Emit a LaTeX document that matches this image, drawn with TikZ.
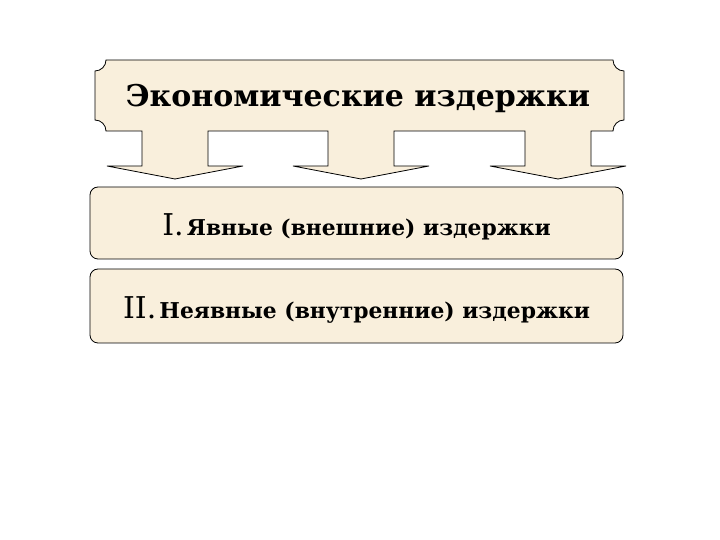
\documentclass[tikz,border=0pt]{standalone}
\usepackage{fontspec}
\setmainfont{DejaVu Serif}
\definecolor{parch}{RGB}{249,239,220}
\tikzset{
panel/.style={
	  draw, fill=parch, rounded corners=8pt,
	    minimum width=533pt},
heading/.style={font=\fontsize{30}{32}\selectfont\bfseries}
}
\newcommand{\numfont}{\fontsize{30}{32}\selectfont}
\newcommand{\bodyfont}{\fontsize{21.8}{24}\selectfont\bfseries}

\begin{document}
\begin{tikzpicture}[x=1pt, y=1pt, line width=0.8pt]
	\useasboundingbox (0,0) rectangle (720,540);
	% banner with the three arrows
	\draw[fill=parch] (95,469) arc[start angle=-90, end angle=0, radius=11]
	-- (613,480) arc[start angle=180, end angle=270, radius=11]
	-- (624,420) arc[start angle=90, end angle=180, radius=11]
	\foreach \c in {558,361,175} {
		-- (\c+33,409) -- (\c+33,374) -- (\c+68,374) -- (\c,361)
		-- (\c-68,374) -- (\c-33,374) -- (\c-33,409)}
	-- (106,409) arc[start angle=0, end angle=90, radius=11] -- cycle;
	\node[heading] (title) at (358,442) {Экономические издержки};
	\node[panel, minimum height=72pt] (explicit) at (356.5,317) {};
	\node[panel, minimum height=74pt] (implicit) at (356.5,234) {};
	\node[yshift=-4pt] (explicitT) at (explicit) {{\numfont I.} \bodyfont Явные (внешние) издержки};
	\node[yshift=-4pt] (implicitT) at (implicit) {{\numfont II.} \bodyfont Неявные (внутренние) издержки};
\end{tikzpicture}
\end{document}
